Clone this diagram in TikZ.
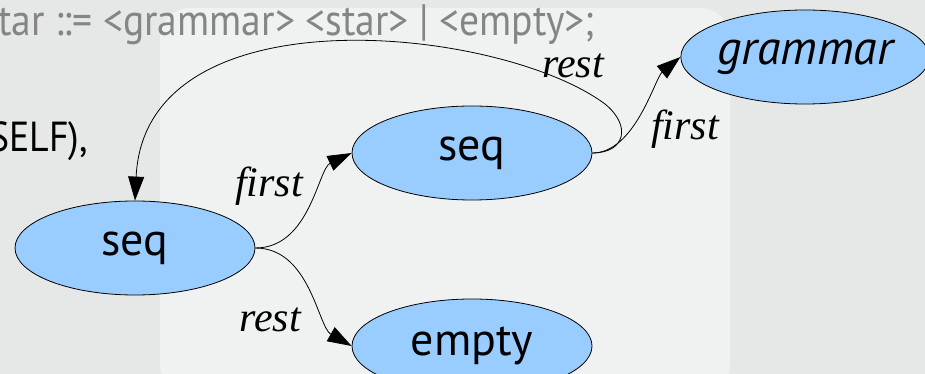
\documentclass[tikz,border=0pt]{standalone}
\usepackage{fontspec}
\usepackage{xcolor}
\usepackage{tikz}
\usetikzlibrary{arrows.meta, positioning, shapes.geometric}
\newfontfamily\nodefont{PT Sans}
\newfontfamily\codefont[FakeStretch=0.9]{PT Sans}
\newfontfamily\labelfont[Ligatures=CommonOff]{Liberation Serif}
\definecolor{nodeblue}{HTML}{99CCFF}
\definecolor{keybg}{HTML}{E6E8E8}
\definecolor{keytop}{HTML}{F0F2F2}
\definecolor{codegray}{HTML}{858585}

\begin{document}
\begin{tikzpicture}[
      x=1pt, y=1pt,
      state/.style={ellipse, draw, fill=nodeblue, line width=0.8pt, minimum width=240pt, minimum height=94pt, inner sep=0pt, font=\nodefont\fontsize{46}{46}\selectfont},
      lbl/.style={font=\labelfont\itshape\fontsize{42}{42}\selectfont, anchor=base, inner sep=0pt},
      code/.style={font=\codefont\fontsize{44}{44}\selectfont, inner sep=0pt},
      arrow/.style={-{Triangle[length=24pt, width=16pt]}, line width=0.8pt}
    ]
    
    \useasboundingbox (0,0) rectangle (925,374);
    \clip (0,0) rectangle (925,374);
    \fill[keybg] (0,0) rectangle (925,374);
    \fill[keytop, rounded corners=30pt] (160,-20) rectangle (730,366);
    
    \node[code, text=codegray, anchor=base west] (grammarline) at (-2,338) {tar ::= <grammar> <star> | <empty>;};
    \node[code, anchor=base east, font=\codefont\fontsize{42}{42}\selectfont] (self) at (88,222) {SELF),};
    
    \node[state] (seqa) at (135,126) {seq};
    \node[state, on grid, above right=95pt and 337pt of seqa] (seqb) {seq};
    \node[state, on grid, below right=98pt and 337pt of seqa] (empty) {empty};
    \node[state, on grid, above right=96pt and 333pt of seqb, font=\nodefont\itshape\fontsize{48}{48}\selectfont] (gram) {grammar};
    
    \coordinate (bend) at (605,270);
    
    \draw[arrow] (seqa.east) .. controls (310,126) and (318,205) .. (seqb.west);
    \draw[arrow] (seqa.east) .. controls (310,126) and (318,47) .. (empty.west);
    \draw[arrow] (seqb.east) .. controls (635,221) and (655,296) .. (gram.west);
    \draw[arrow] (seqb.east) .. controls (625,221) and (632,248) .. (bend) .. controls (500,348) and (145,385) .. (seqa.north);
    
    \node[lbl] (firsta) at (269,177) {first};
    \node[lbl] (resta) at (270,42) {rest};
    \node[lbl] (restb) at (573,296) {rest};
    \node[lbl] (firstb) at (685,234) {first};
    
    \end{tikzpicture}
\end{document}
